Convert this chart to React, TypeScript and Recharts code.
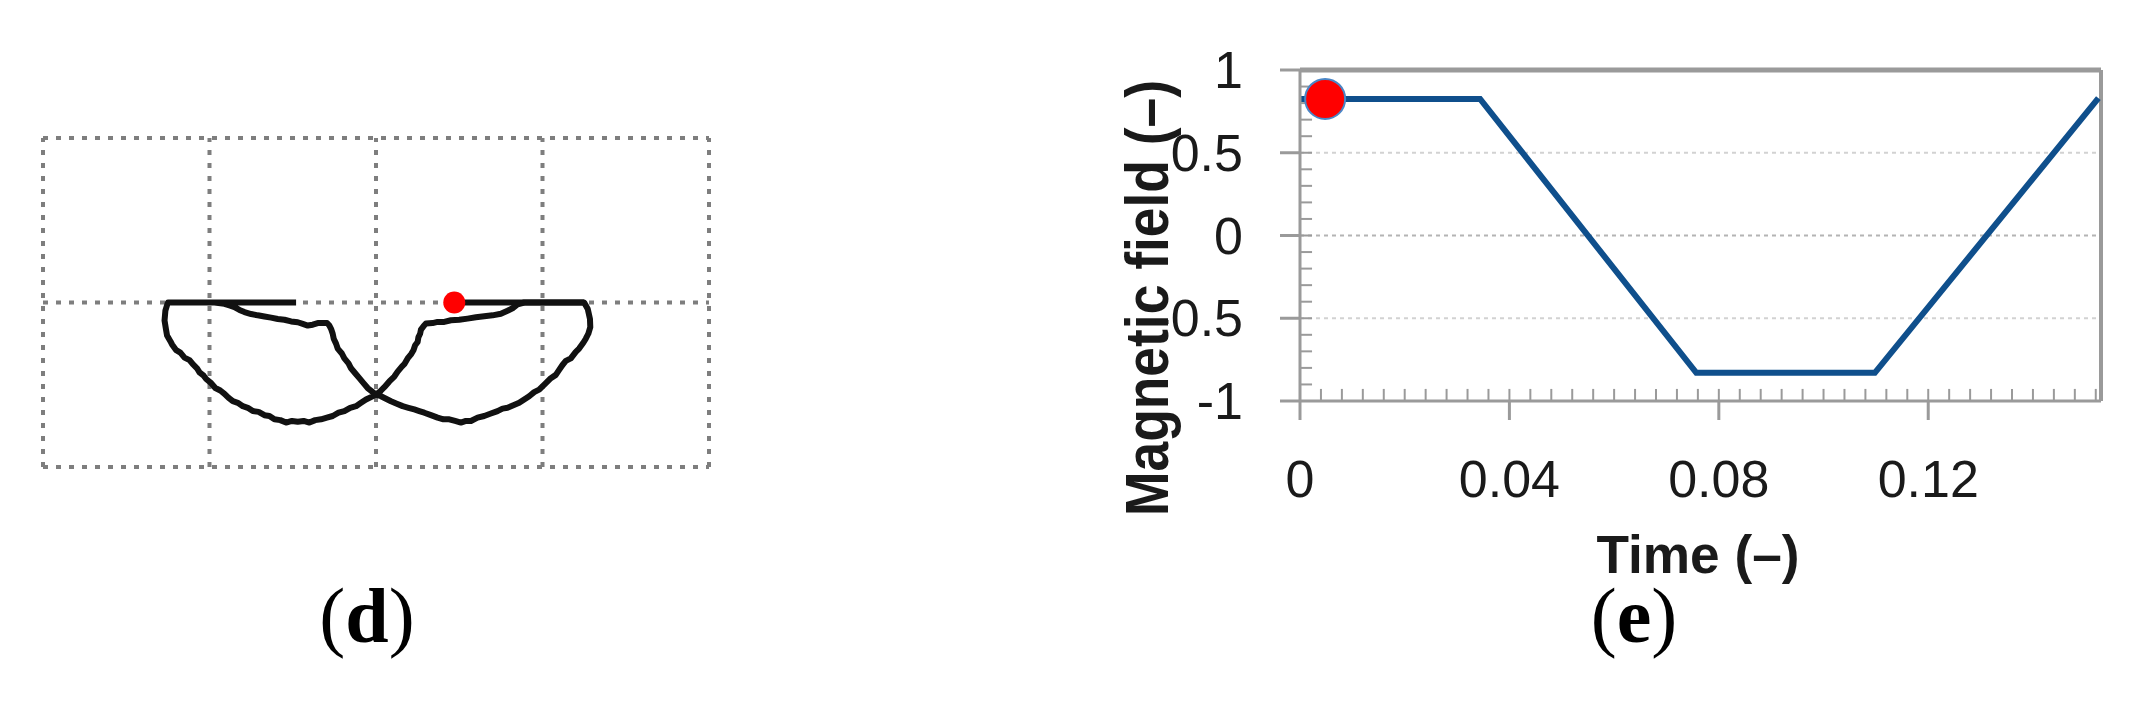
import React from 'react';
import { ComposedChart, Line, Scatter, XAxis, YAxis, ReferenceLine, Label } from 'recharts';

// ---------- panel (d): trajectory in grid units ----------
const gridX = [-2, -1, 0, 1, 2];
const gridY = [-1, 0, 1];

// one continuous run: left segment, left outer lobe, right inner arc, right outer lobe, left inner arc
const loopPath = [
  { x: -0.48, y: 0 }, { x: -1.25, y: 0 },
  { x: -1.265, y: -0.05 }, { x: -1.27, y: -0.11 }, { x: -1.262, y: -0.16 }, { x: -1.255, y: -0.2 },
  { x: -1.235, y: -0.235 }, { x: -1.225, y: -0.255 }, { x: -1.2, y: -0.29 }, { x: -1.175, y: -0.305 },
  { x: -1.15, y: -0.335 }, { x: -1.12, y: -0.35 }, { x: -1.1, y: -0.375 }, { x: -1.075, y: -0.4 },
  { x: -1.06, y: -0.425 }, { x: -1.035, y: -0.445 }, { x: -1.02, y: -0.465 }, { x: -0.99, y: -0.49 },
  { x: -0.965, y: -0.52 }, { x: -0.935, y: -0.535 }, { x: -0.91, y: -0.555 }, { x: -0.885, y: -0.58 },
  { x: -0.86, y: -0.6 }, { x: -0.83, y: -0.61 }, { x: -0.8, y: -0.63 }, { x: -0.77, y: -0.64 },
  { x: -0.74, y: -0.66 }, { x: -0.705, y: -0.665 }, { x: -0.67, y: -0.685 }, { x: -0.64, y: -0.69 },
  { x: -0.61, y: -0.71 }, { x: -0.575, y: -0.715 }, { x: -0.54, y: -0.73 }, { x: -0.505, y: -0.72 },
  { x: -0.47, y: -0.725 }, { x: -0.435, y: -0.72 }, { x: -0.4, y: -0.73 }, { x: -0.365, y: -0.715 },
  { x: -0.33, y: -0.71 }, { x: -0.295, y: -0.7 }, { x: -0.26, y: -0.69 }, { x: -0.225, y: -0.67 },
  { x: -0.19, y: -0.66 }, { x: -0.155, y: -0.64 }, { x: -0.12, y: -0.63 }, { x: -0.09, y: -0.61 },
  { x: -0.06, y: -0.59 }, { x: -0.03, y: -0.575 }, { x: 0, y: -0.56 },
  { x: 0.025, y: -0.54 }, { x: 0.05, y: -0.515 }, { x: 0.08, y: -0.48 }, { x: 0.11, y: -0.45 },
  { x: 0.13, y: -0.42 }, { x: 0.155, y: -0.39 }, { x: 0.17, y: -0.375 }, { x: 0.19, y: -0.34 },
  { x: 0.21, y: -0.315 }, { x: 0.225, y: -0.29 }, { x: 0.235, y: -0.26 }, { x: 0.25, y: -0.24 },
  { x: 0.255, y: -0.21 }, { x: 0.265, y: -0.19 }, { x: 0.27, y: -0.165 }, { x: 0.285, y: -0.145 },
  { x: 0.3, y: -0.128 }, { x: 0.34, y: -0.125 }, { x: 0.37, y: -0.118 }, { x: 0.41, y: -0.118 },
  { x: 0.45, y: -0.108 }, { x: 0.5, y: -0.105 }, { x: 0.55, y: -0.098 }, { x: 0.6, y: -0.09 },
  { x: 0.65, y: -0.084 }, { x: 0.7, y: -0.078 }, { x: 0.75, y: -0.068 }, { x: 0.79, y: -0.05 },
  { x: 0.82, y: -0.035 }, { x: 0.85, y: -0.012 }, { x: 0.89, y: 0 }, { x: 1.25, y: 0 },
  { x: 1.272, y: -0.04 }, { x: 1.285, y: -0.1 }, { x: 1.287, y: -0.15 }, { x: 1.275, y: -0.19 },
  { x: 1.26, y: -0.22 }, { x: 1.245, y: -0.245 }, { x: 1.22, y: -0.28 }, { x: 1.2, y: -0.3 },
  { x: 1.17, y: -0.34 }, { x: 1.14, y: -0.355 }, { x: 1.12, y: -0.38 }, { x: 1.1, y: -0.41 },
  { x: 1.08, y: -0.44 }, { x: 1.05, y: -0.46 }, { x: 1.02, y: -0.49 }, { x: 1.0, y: -0.51 },
  { x: 0.98, y: -0.53 }, { x: 0.95, y: -0.545 }, { x: 0.92, y: -0.57 }, { x: 0.89, y: -0.59 },
  { x: 0.86, y: -0.61 }, { x: 0.825, y: -0.625 }, { x: 0.79, y: -0.64 }, { x: 0.76, y: -0.645 },
  { x: 0.73, y: -0.66 }, { x: 0.69, y: -0.675 }, { x: 0.65, y: -0.69 }, { x: 0.61, y: -0.7 },
  { x: 0.57, y: -0.72 }, { x: 0.54, y: -0.72 }, { x: 0.51, y: -0.73 }, { x: 0.475, y: -0.72 },
  { x: 0.44, y: -0.71 }, { x: 0.405, y: -0.71 }, { x: 0.37, y: -0.7 }, { x: 0.33, y: -0.685 },
  { x: 0.29, y: -0.67 }, { x: 0.26, y: -0.66 }, { x: 0.23, y: -0.65 }, { x: 0.195, y: -0.64 },
  { x: 0.16, y: -0.63 }, { x: 0.125, y: -0.615 }, { x: 0.09, y: -0.6 }, { x: 0.06, y: -0.585 },
  { x: 0.03, y: -0.57 }, { x: 0, y: -0.56 },
  { x: -0.025, y: -0.54 }, { x: -0.05, y: -0.52 }, { x: -0.075, y: -0.49 }, { x: -0.1, y: -0.46 },
  { x: -0.125, y: -0.43 }, { x: -0.15, y: -0.4 }, { x: -0.165, y: -0.37 }, { x: -0.19, y: -0.34 },
  { x: -0.205, y: -0.31 }, { x: -0.23, y: -0.28 }, { x: -0.24, y: -0.25 }, { x: -0.254, y: -0.22 },
  { x: -0.26, y: -0.19 }, { x: -0.27, y: -0.16 }, { x: -0.28, y: -0.14 }, { x: -0.294, y: -0.125 },
  { x: -0.35, y: -0.125 }, { x: -0.38, y: -0.135 }, { x: -0.41, y: -0.14 }, { x: -0.44, y: -0.13 },
  { x: -0.47, y: -0.12 }, { x: -0.51, y: -0.115 }, { x: -0.55, y: -0.105 }, { x: -0.59, y: -0.1 },
  { x: -0.63, y: -0.092 }, { x: -0.67, y: -0.085 }, { x: -0.71, y: -0.078 }, { x: -0.75, y: -0.07 },
  { x: -0.79, y: -0.058 }, { x: -0.82, y: -0.045 }, { x: -0.85, y: -0.028 }, { x: -0.88, y: -0.018 },
  { x: -0.91, y: -0.008 }, { x: -0.97, y: 0 },
];
const tailPath = [{ x: 0.47, y: 0 }, { x: 1.25, y: 0 }];
const loopMarker = [{ x: 0.47, y: 0 }];

// ---------- panel (e): magnetic field vs time ----------
const fieldTime = [0, 0.0344, 0.0757, 0.1098, 0.1525];
const fieldValue = [0.825, 0.825, -0.83, -0.83, 0.83];
const fieldMarker = [{ t: 0.0048, b: 0.825 }];
const timeTicks = [0, 0.04, 0.08, 0.12];
const timeTickLabels = ['0', '0.04', '0.08', '0.12'];
const fieldTicks = [-1, -0.5, 0, 0.5, 1];
const fieldTickLabels = ['-1', '-0.5', '0', '0.5', '1'];
const fieldGrid = [-0.5, 0.5];

const TIME_MAX = 0.153;
const fieldData = fieldTime.map((t, i) => ({ t, b: fieldValue[i] }));
// small inward ticks: every 0.004 on time, every 0.1 on field
const minorTimeTicks = Array.from({ length: 38 }, (_, i) => +((i + 1) * 0.004).toFixed(3));
const minorFieldTicks = Array.from({ length: 19 }, (_, i) => +(-0.9 + i * 0.1).toFixed(1));
const MINOR_X_LEN = 0.073;   // field units (~12px)
const MINOR_Y_LEN = 0.0023;  // time units (~12px)

const TICK_FONT = "'Liberation Sans', Arial, sans-serif";
const TITLE_FONT = "'Liberation Sans', Arial, sans-serif";
const AXIS_GREY = '#9a9a9a';

const TimeTick = ({ x, payload }: any) => (
  <text x={x} y={497} textAnchor="middle" fontSize={52} fontFamily={TICK_FONT} fill="#1a1a1a">
    {timeTickLabels[timeTicks.indexOf(payload.value)]}
  </text>
);

const FieldTick = ({ y, payload }: any) => (
  <text x={143} y={y + 18} textAnchor="end" fontSize={52} fontFamily={TICK_FONT} fill="#1a1a1a">
    {fieldTickLabels[fieldTicks.indexOf(payload.value)]}
  </text>
);

const App: React.FC = () => {
  return (
    <div style={{ position: 'absolute', left: 0, top: 0, width: 2145, height: 720, background: '#fff' }}>
      <svg width={2145} height={720} style={{ position: 'absolute', left: 0, top: 0 }}>
        <text x={367} y={642} textAnchor="middle" fontSize={78} fontFamily="'Liberation Serif', serif" fill="#000">
          (<tspan fontWeight="bold">d</tspan>)
        </text>
        <text x={1634} y={642} textAnchor="middle" fontSize={78} fontFamily="'Liberation Serif', serif" fill="#000">
          (<tspan fontWeight="bold">e</tspan>)
        </text>
      </svg>

      {/* (d) */}
      <div style={{ position: 'absolute', left: 0, top: 0 }}>
        <ComposedChart width={760} height={520} margin={{ top: 138, right: 51, bottom: 53, left: 43 }}>
          <XAxis type="number" dataKey="x" domain={[-2, 2]} ticks={gridX} hide allowDataOverflow />
          <YAxis type="number" dataKey="y" domain={[-1, 1]} ticks={gridY} hide allowDataOverflow />
          {gridX.map(v => (
            <ReferenceLine key={'gx' + v} x={v} stroke="#7e7e7e" strokeWidth={4} strokeDasharray="5 8" />
          ))}
          {gridY.map(v => (
            <ReferenceLine key={'gy' + v} y={v} stroke="#7e7e7e" strokeWidth={4} strokeDasharray="5 8" />
          ))}
          <Line data={loopPath} dataKey="y" stroke="#111" strokeWidth={6} dot={false}
            strokeLinejoin="round" isAnimationActive={false} />
          <Line data={tailPath} dataKey="y" stroke="#111" strokeWidth={6} dot={false}
            isAnimationActive={false} />
          <Scatter data={loopMarker} dataKey="y" isAnimationActive={false}
            shape={(p: any) => <circle cx={p.cx} cy={p.cy} r={11} fill="#ff0000" />} />
        </ComposedChart>
      </div>

      {/* (e) */}
      <div style={{ position: 'absolute', left: 1100, top: 0 }}>
        <ComposedChart width={1045} height={720} data={fieldData} margin={{ top: 70, right: 44, bottom: 0, left: 0 }}>
          <XAxis type="number" dataKey="t" domain={[0, TIME_MAX]} ticks={timeTicks} allowDataOverflow
            height={319} tickSize={19} tick={<TimeTick />}
            tickLine={{ stroke: AXIS_GREY, strokeWidth: 3 }} axisLine={{ stroke: AXIS_GREY, strokeWidth: 3 }}>
            <Label content={() => (
              <text x={598} y={573} textAnchor="middle" fontSize={54} fontWeight="bold"
                fontFamily={TITLE_FONT} fill="#1a1a1a" textLength={203} lengthAdjust="spacingAndGlyphs">
                Time (–)
              </text>
            )} />
          </XAxis>
          <YAxis type="number" dataKey="b" domain={[-1, 1]} ticks={fieldTicks} allowDataOverflow
            width={200} tickSize={20} tick={<FieldTick />}
            tickLine={{ stroke: AXIS_GREY, strokeWidth: 3 }} axisLine={{ stroke: AXIS_GREY, strokeWidth: 3 }}>
            <Label content={() => (
              <text x={68} y={298} textAnchor="middle" fontSize={62} fontWeight="bold"
                fontFamily={TITLE_FONT} fill="#1a1a1a" transform="rotate(-90, 68, 298)"
                textLength={436} lengthAdjust="spacingAndGlyphs">
                Magnetic field (–)
              </text>
            )} />
          </YAxis>
          {fieldGrid.map(v => (
            <ReferenceLine key={'fg' + v} y={v} stroke="#d2d2d2" strokeWidth={2} strokeDasharray="4 4" />
          ))}
          <ReferenceLine y={0} stroke="#b4b4b4" strokeWidth={2} strokeDasharray="4 4" />
          {minorTimeTicks.map(v => (
            <ReferenceLine key={'mt' + v} segment={[{ x: v, y: -1 }, { x: v, y: -1 + MINOR_X_LEN }]}
              stroke={AXIS_GREY} strokeWidth={2} />
          ))}
          {minorFieldTicks.map(v => (
            <ReferenceLine key={'mf' + v} segment={[{ x: 0, y: v }, { x: MINOR_Y_LEN, y: v }]}
              stroke={AXIS_GREY} strokeWidth={2} />
          ))}
          <ReferenceLine y={1} stroke={AXIS_GREY} strokeWidth={5} />
          <ReferenceLine x={TIME_MAX} stroke={AXIS_GREY} strokeWidth={4} />
          <Line dataKey="b" stroke="#0f4f8c" strokeWidth={6} dot={false} isAnimationActive={false} />
          <Scatter data={fieldMarker} dataKey="b" isAnimationActive={false}
            shape={(p: any) => <circle cx={p.cx} cy={p.cy} r={20} fill="#ff0000" stroke="#4a86c6" strokeWidth={2} />} />
        </ComposedChart>
      </div>
    </div>
  );
};

export default App;
